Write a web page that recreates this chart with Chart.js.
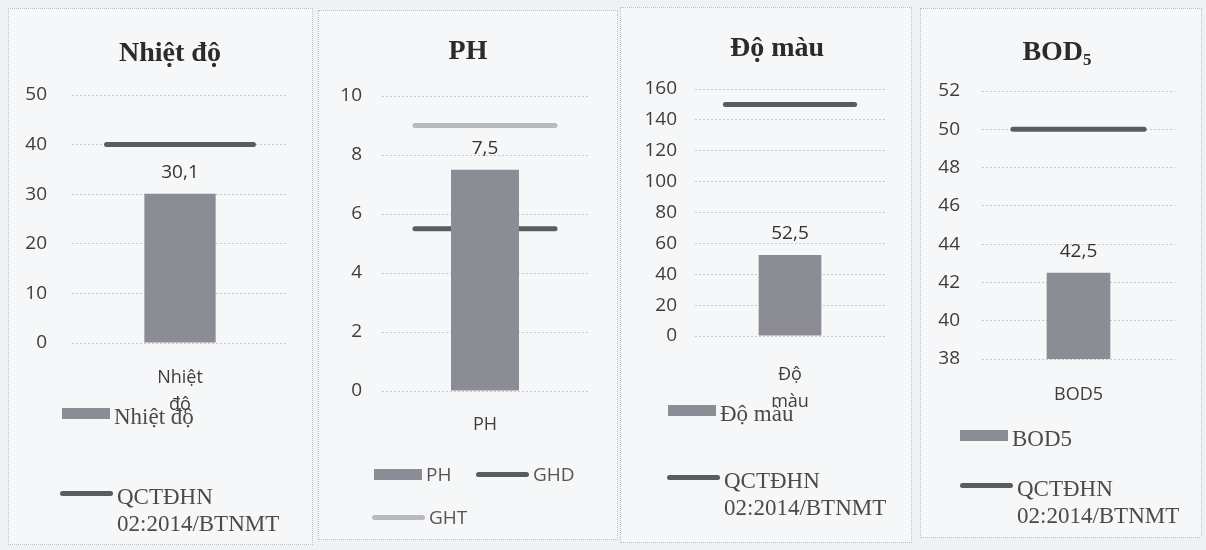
<!DOCTYPE html>
<html>
<head>
<meta charset="utf-8">
<script src="https://cdn.jsdelivr.net/npm/chart.js@4.4.1/dist/chart.umd.min.js"></script>
<style>
  body { margin: 0; width: 1206px; height: 550px; background: #f0f1f2; position: relative; overflow: hidden; }
  .frame { position: absolute; border: 1px dotted #bcbec2; background: #f6f7f8; box-sizing: border-box; }
  .box { position: absolute; }
  .title { position: absolute; font: bold 28px "Liberation Serif", serif; color: #2b2b2b; transform: translate(-50%, -50%); white-space: nowrap; }
  .title sub { font-size: 17px; vertical-align: -5px; }
  .leg { position: absolute; color: #4a4a4a; }
  .leg.serif { font: 23px/27px "Liberation Serif", serif; }
  .leg.serif .text { top: 3px; }
  .leg.sans { font: 19px/27px "Open Sans", sans-serif; color: #555; }
  .leg .mark { position: absolute; left: 0; }
  .leg .text { position: absolute; }
</style>
</head>
<body>
<script>
'use strict'

// values
const categories = ['Nhiệt độ', 'PH', 'Độ màu', 'BOD5'];
const chartTitles = ['Nhiệt độ', 'PH', 'Độ màu', 'BOD<sub>5</sub>'];
const measured = [30.1, 7.5, 52.5, 42.5];
const qcLimit = [40, null, 150, 50];
const qcLabel = 'QCTĐHN 02:2014/BTNMT';
const phLimitNames = ['GHD', 'GHT'];
const phLimitValues = [5.5, 9];
const yMin = [0, 0, 0, 38];
const yMax = [50, 10, 160, 52];
const yStep = [10, 2, 20, 2];

const BAR = '#8b8c94';
const DARK = '#5b5c60';
const LIGHT = '#b9babd';
const SPAN = 0.34;   // half length of the limit lines, in category widths

// page layout of the four panels
const panels = [
  { frame: [8, 8, 305, 537], area: [72, 95, 288, 343], yPad: 25, xPad: 13, title: [170, 52], font: 'serif',
    legend: [[62, 413], [60, 493]] },
  { frame: [318, 10, 300, 530], area: [382, 96, 588, 391], yPad: 20, xPad: 12, title: [468, 50], font: 'sans',
    legend: [[374, 474], [476, 474], [372, 517]] },
  { frame: [620, 7, 292, 536], area: [695, 89, 885, 336], yPad: 18, xPad: 17, title: [777, 47], font: 'serif',
    legend: [[668, 410], [667, 477]] },
  { frame: [920, 8, 282, 530], area: [982, 91, 1175, 359], yPad: 22, xPad: 14, title: [1057, 52], font: 'serif',
    legend: [[960, 435], [960, 485]] }
];

const Y_W = 60, X_H = 90;

const valueLabels = {
  id: 'valueLabels',
  afterDatasetsDraw(chart) {
    const meta = chart.getDatasetMeta(0);
    const ctx = chart.ctx;
    ctx.save();
    ctx.font = '19px "Open Sans"';
    ctx.fillStyle = '#333';
    ctx.textAlign = 'center';
    ctx.textBaseline = 'middle';
    meta.data.forEach((bar, i) => {
      const v = chart.data.datasets[0].data[i];
      ctx.fillText(String(v).replace('.', ','), bar.x, bar.y - 21);
    });
    ctx.restore();
  }
};

function limitLine(label, value, color) {
  return {
    type: 'line', label: label, xAxisID: 'x2', order: 1,
    data: [{ x: -SPAN, y: value }, { x: SPAN, y: value }],
    borderColor: color, backgroundColor: color, borderWidth: 5,
    borderCapStyle: 'round', pointRadius: 0
  };
}

function el(tag, cls, parent) {
  const e = document.createElement(tag);
  if (cls) e.className = cls;
  (parent || document.body).appendChild(e);
  return e;
}

function addLegend(chart, p) {
  const right = p.frame[0] + p.frame[2];
  chart.data.datasets.forEach((ds, i) => {
    const [x, y] = p.legend[i];
    const item = el('div', 'leg ' + p.font);
    item.style.left = x + 'px';
    item.style.top = (y - 13.5) + 'px';
    const isBar = ds.type !== 'line';
    const w = isBar ? 48 : 53, h = isBar ? 11 : 5;
    const mark = el('span', 'mark', item);
    mark.style.width = w + 'px';
    mark.style.height = h + 'px';
    mark.style.top = (13.5 - h / 2) + 'px';
    mark.style.background = isBar ? ds.backgroundColor : ds.borderColor;
    if (!isBar) mark.style.borderRadius = '3px';
    const text = el('span', 'text', item);
    text.textContent = ds.label;
    text.style.left = (w + 4) + 'px';
    text.style.width = (right - x - w - 6) + 'px';
  });
}

panels.forEach((p, i) => {
  const [fx, fy, fw, fh] = p.frame;
  const frame = el('div', 'frame');
  Object.assign(frame.style, { left: fx + 'px', top: fy + 'px', width: fw + 'px', height: fh + 'px' });

  const box = el('div', 'box');
  Object.assign(box.style, { left: fx + 'px', top: fy + 'px', width: fw + 'px', height: fh + 'px' });
  const canvas = el('canvas', null, box);

  const title = el('div', 'title');
  title.innerHTML = chartTitles[i];
  title.style.left = p.title[0] + 'px';
  title.style.top = p.title[1] + 'px';

  const datasets = [{
    label: categories[i], data: [measured[i]], backgroundColor: BAR,
    xAxisID: 'x', order: 0, grouped: false, barPercentage: 0.33, categoryPercentage: 1
  }];
  if (qcLimit[i] === null) {
    datasets.push(limitLine(phLimitNames[0], phLimitValues[0], DARK));
    datasets.push(limitLine(phLimitNames[1], phLimitValues[1], LIGHT));
  } else {
    datasets.push(limitLine(qcLabel, qcLimit[i], DARK));
  }

  const [ax0, ay0, ax1, ay1] = p.area;
  const chart = new Chart(canvas, {
    type: 'bar',
    data: { labels: [categories[i]], datasets: datasets },
    options: {
      responsive: true, maintainAspectRatio: false, animation: false,
      layout: { padding: {
        left: ax0 - fx - Y_W, right: fx + fw - ax1,
        top: ay0 - fy, bottom: fy + fh - ay1 - X_H } },
      plugins: { legend: { display: false }, title: { display: false }, tooltip: { enabled: false } },
      scales: {
        x: {
          grid: { display: false }, border: { display: false },
          afterFit: s => { s.height = X_H; },
          ticks: {
            padding: p.xPad, color: '#3d3d3d',
            font: { family: 'Open Sans', size: 18, lineHeight: 1.5 },
            callback: function (v) { return this.getLabelForValue(v).split(' '); }
          }
        },
        x2: { type: 'linear', min: -0.5, max: 0.5, offset: false, display: false },
        y: {
          min: yMin[i], max: yMax[i],
          afterFit: s => { s.width = Y_W; },
          grid: { color: '#c6c7ca', lineWidth: 1, drawTicks: false },
          border: { display: false, dash: [2, 2] },
          ticks: { stepSize: yStep[i], padding: p.yPad, color: '#3d3d3d', font: { family: 'Open Sans', size: 19 } }
        }
      }
    },
    plugins: [valueLabels]
  });

  addLegend(chart, p);
});
</script>
</body>
</html>
